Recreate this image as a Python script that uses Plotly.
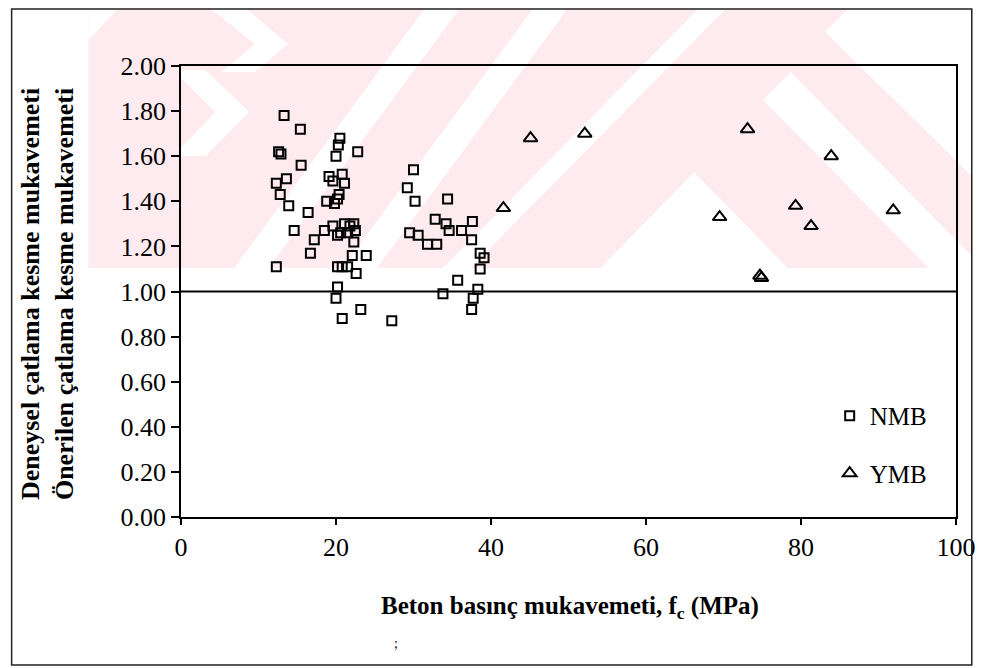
import plotly.graph_objects as go

# NMB: normal dayanımlı beton, YMB: yüksek dayanımlı beton
nmb_fc = [13.3, 15.4, 12.6, 12.9, 15.5, 13.6, 12.3, 12.8, 13.9, 16.4, 14.6, 18.5, 19.6, 17.2, 16.7, 12.3,
          20.5, 20.3, 20.0, 22.8, 19.1, 20.8, 21.1, 19.6, 20.4, 20.2, 18.8, 19.8, 21.1, 22.3, 20.6, 21.5,
          22.5, 21.8, 20.2, 22.3, 22.1, 23.9, 20.2, 20.8, 21.5, 22.6, 20.2, 20.0, 20.8, 23.2, 27.2,
          30.0, 29.2, 30.2, 34.4, 32.8, 34.2, 34.6, 36.2, 37.6, 37.5, 29.5, 30.6, 31.8, 33.0, 38.6, 39.1,
          38.6, 35.7, 38.3, 33.8, 37.7, 37.5]
nmb_oran = [1.78, 1.72, 1.62, 1.61, 1.56, 1.50, 1.48, 1.43, 1.38, 1.35, 1.27, 1.27, 1.29, 1.23, 1.17, 1.11,
            1.68, 1.65, 1.60, 1.62, 1.51, 1.52, 1.48, 1.49, 1.43, 1.41, 1.40, 1.39, 1.30, 1.30, 1.26, 1.26,
            1.27, 1.29, 1.25, 1.22, 1.16, 1.16, 1.11, 1.11, 1.11, 1.08, 1.02, 0.97, 0.88, 0.92, 0.87,
            1.54, 1.46, 1.40, 1.41, 1.32, 1.30, 1.27, 1.27, 1.31, 1.23, 1.26, 1.25, 1.21, 1.21, 1.17, 1.15,
            1.10, 1.05, 1.01, 0.99, 0.97, 0.92]

ymb_fc = [45.1, 52.1, 41.6, 73.1, 83.9, 79.3, 69.5, 81.3, 91.9, 74.7, 74.9]
ymb_oran = [1.68, 1.70, 1.37, 1.72, 1.60, 1.38, 1.33, 1.29, 1.36, 1.07, 1.06]

x_ticks = [0, 20, 40, 60, 80, 100]
y_ticks = [0.0, 0.2, 0.4, 0.6, 0.8, 1.0, 1.2, 1.4, 1.6, 1.8, 2.0]

FONT = "Liberation Serif, Times New Roman, DejaVu Serif, serif"

# page has an 8px body margin, so the figure is drawn 8px in
OFF = 8
W_FIG, H_FIG = 980, 660
# plot area in page pixels
L, R, T, B = 181, 968, 66, 517


def px(x):
    return (x - L) / (R - L)


def py(y):
    return (B - y) / (B - T)


def poly(points):
    return "M " + " L ".join(f"{px(a):.4f},{py(b):.4f}" for a, b in points) + " Z"


fig = go.Figure()

fig.add_trace(go.Scatter(
    x=nmb_fc, y=nmb_oran, mode="markers", name="NMB", legendgroup="nmb",
    marker=dict(symbol="square-open", size=9, color="black", line=dict(width=2, color="black")),
))
fig.add_trace(go.Scatter(
    x=ymb_fc, y=ymb_oran, mode="markers", name="YMB", legendgroup="ymb",
    marker=dict(symbol="triangle-up-open", size=12, color="black", line=dict(width=2, color="black")),
))

# soluk filigran (taranmış sayfa)
pink = "#fdebef"
shapes = [dict(type="path", path=poly([(87, 0), (985, 0), (985, 268), (87, 268)]),
               xref="paper", yref="paper", fillcolor=pink, line_width=0, layer="below")]
white_parts = [
    [(87, 0), (125, 0), (87, 40)],
    [(200, 0), (236, 0), (290, 44), (256, 72), (222, 72), (256, 44)],
    [(181, 70), (206, 70), (250, 112), (206, 156), (181, 156), (181, 148), (216, 112), (181, 78)],
    [(435, 0), (470, 0), (270, 268), (235, 268)],
    [(545, 0), (580, 0), (380, 268), (345, 268)],
    [(715, 0), (743, 0), (475, 268), (447, 268)],
    [(702, 172), (797, 268), (607, 268)],
    [(772, 100), (800, 72), (985, 257), (985, 268), (940, 268)],
    [(835, 32), (867, 0), (985, 0), (985, 177)],
]
for pts in white_parts:
    shapes.append(dict(type="path", path=poly(pts), xref="paper", yref="paper",
                       fillcolor="white", line_width=0, layer="below"))

# y = 1.00 çizgisi
shapes.append(dict(type="line", xref="x", yref="y", x0=0, x1=100, y0=1, y1=1,
                   line=dict(color="black", width=2)))
# sayfa çerçevesi
shapes.append(dict(type="rect", xref="paper", yref="paper",
                   x0=px(OFF + 1), x1=px(984), y0=py(665), y1=py(OFF + 1),
                   line=dict(color="#222222", width=1.5)))

fig.update_layout(
    width=W_FIG, height=H_FIG,
    margin=dict(l=L - OFF, r=W_FIG - (R - OFF), t=T - OFF, b=H_FIG - (B - OFF)),
    paper_bgcolor="white", plot_bgcolor="rgba(0,0,0,0)",
    font=dict(family=FONT, size=25, color="black"),
    shapes=shapes,
    showlegend=True,
    legend=dict(x=0.837, y=0.275, xanchor="left", yanchor="top",
                bgcolor="rgba(0,0,0,0)", font=dict(family=FONT, size=25),
                tracegroupgap=22, itemwidth=30),
    annotations=[
        dict(text="<b>Deneysel çatlama kesme mukavemeti<br>Önerilen çatlama kesme mukavemeti</b>",
             xref="paper", yref="paper", x=px(45), y=py(294), textangle=-90,
             showarrow=False, xanchor="center", yanchor="middle",
             font=dict(family=FONT, size=26), align="center"),
        dict(text="<b>Beton basınç mukavemeti, f<sub>c</sub> (MPa)</b>",
             xref="paper", yref="paper", x=px(576), y=py(607),
             showarrow=False, xanchor="center", yanchor="middle",
             font=dict(family=FONT, size=25)),
        dict(text=";", xref="paper", yref="paper", x=px(395), y=py(653),
             showarrow=False, font=dict(family=FONT, size=14)),
    ],
)

fig.update_xaxes(
    range=[0, 100], tickvals=x_ticks, ticktext=[str(v) for v in x_ticks],
    showgrid=False, zeroline=False,
    showline=True, linecolor="black", linewidth=1.5, mirror=True,
    ticks="outside", ticklen=6, tickwidth=1.5, tickcolor="black",
    tickfont=dict(family=FONT, size=26),
)
fig.update_yaxes(
    range=[0, 2.0], tickvals=y_ticks, ticktext=[f"{v:.2f}" for v in y_ticks],
    showgrid=False, zeroline=False,
    showline=True, linecolor="black", linewidth=1.5, mirror=True,
    ticks="outside", ticklen=8, tickwidth=1.5, tickcolor="black",
    tickfont=dict(family=FONT, size=26),
)

fig.write_html("out.html")
